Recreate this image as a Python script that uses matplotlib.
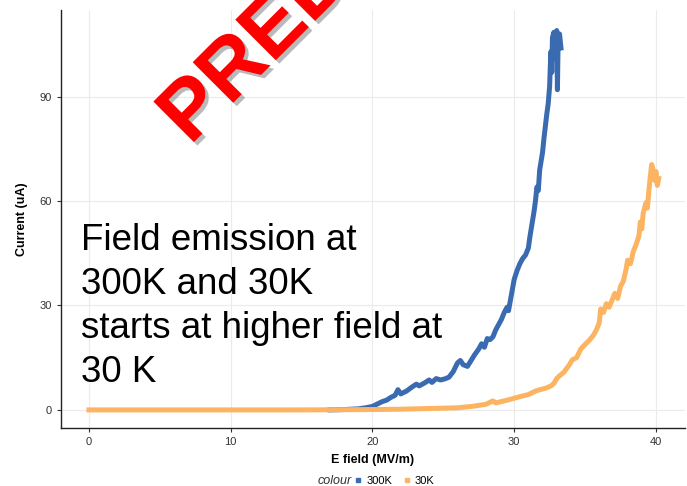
import matplotlib
matplotlib.use('Agg')
import matplotlib.pyplot as plt
import matplotlib.patheffects as pe
from matplotlib.lines import Line2D

plt.rcParams['font.family'] = ['Liberation Sans', 'DejaVu Sans']

# 300K curve (E field MV/m, current uA)
e_300 = [17.0, 18.0, 19.0, 19.5, 20.0, 20.4, 20.7, 21.0, 21.3, 21.6, 21.8, 22.0,
         22.4, 22.8, 23.1, 23.3, 23.7, 24.0, 24.2, 24.5, 24.8, 25.1, 25.4, 25.7,
         26.0, 26.2, 26.4, 26.7, 26.9, 27.2, 27.5, 27.7, 27.9, 28.1, 28.3, 28.5,
         28.7, 28.9, 29.1, 29.3, 29.5, 29.6, 29.8, 30.0, 30.2, 30.4, 30.6, 30.8,
         31.0, 31.1, 31.2, 31.4, 31.5, 31.6, 31.7, 31.8, 32.0, 32.1, 32.2, 32.3,
         32.4, 32.5, 32.55, 32.6, 32.65, 32.7, 32.8, 32.9, 33.0, 33.05, 33.1, 33.2, 33.3]
i_300 = [0.0, 0.1, 0.3, 0.6, 1.0, 1.8, 2.4, 2.8, 3.6, 4.2, 5.8, 4.6,
         5.4, 6.6, 7.4, 6.9, 7.8, 8.6, 7.9, 9.0, 8.6, 8.9, 9.4, 11.0,
         13.5, 14.2, 13.0, 12.5, 13.8, 15.8, 17.5, 19.0, 18.0, 20.5, 20.2, 21.0,
         23.0, 24.5, 26.0, 28.0, 29.5, 28.5, 33.0, 37.5, 40.0, 42.0, 43.5, 44.5,
         46.5, 49.5, 52.0, 57.0, 60.0, 64.0, 63.0, 69.0, 74.0, 78.0, 81.5, 85.0,
         88.0, 93.0, 99.0, 103.0, 97.0, 107.0, 108.5, 101.0, 109.0, 92.0, 106.0, 108.0, 104.0]

# 30K curve
e_30 = [0.0, 5.0, 10.0, 15.0, 20.0, 22.0, 24.0, 25.0, 26.0, 27.0, 28.0, 28.5,
        28.7, 29.5, 30.4, 31.0, 31.5, 31.8, 32.2, 32.6, 32.8, 33.0, 33.2, 33.5,
        33.9, 34.1, 34.4, 34.7, 35.0, 35.3, 35.6, 35.8, 36.0, 36.1, 36.3, 36.5,
        36.7, 36.9, 37.1, 37.3, 37.5, 37.7, 37.9, 38.0, 38.2, 38.4, 38.6, 38.8,
        38.9, 39.0, 39.1, 39.3, 39.4, 39.5, 39.6, 39.7, 39.8, 39.9, 40.0, 40.1, 40.2]
i_30 = [0.0, 0.0, 0.0, 0.0, 0.1, 0.2, 0.4, 0.5, 0.6, 1.0, 1.6, 2.6,
        2.0, 2.8, 3.8, 4.4, 5.4, 5.8, 6.2, 6.9, 7.6, 9.0, 9.8, 10.8,
        13.0, 14.4, 15.0, 17.5, 18.8, 20.0, 21.5, 23.0, 25.0, 29.0, 28.0, 30.5,
        29.5, 31.5, 33.5, 32.0, 35.5, 37.0, 40.5, 43.0, 42.0, 45.5, 47.5, 50.0,
        54.0, 52.0, 56.5, 59.5, 58.0, 63.0, 67.0, 70.5, 69.0, 66.0, 68.5, 64.5, 66.5]

x_ticks = [0, 10, 20, 30, 40]
y_ticks = [0, 30, 60, 90]
labels = ['300K', '30K']
colors = ['#3A6BB1', '#FDB462']

fig = plt.figure(figsize=(6.87, 4.86), dpi=100)
ax = fig.add_axes([61 / 687, 1 - 428 / 486, 624 / 687, 418 / 486])

ax.plot(e_300, i_300, color=colors[0], lw=3.6, solid_joinstyle='round')
ax.plot(e_30, i_30, color=colors[1], lw=3.6, solid_joinstyle='round')

ax.set_xlim(-1.97, 42.05)
ax.set_ylim(-5.2, 114.9)
ax.set_xticks(x_ticks)
ax.set_yticks(y_ticks)
ax.grid(True, color='#EBEBEB', lw=0.8)
ax.set_axisbelow(True)
for s in ['top', 'right']:
    ax.spines[s].set_visible(False)
for s in ['left', 'bottom']:
    ax.spines[s].set_color('#222222')
    ax.spines[s].set_linewidth(1.0)
ax.tick_params(labelsize=8, colors='#333333', length=3, width=0.8)
ax.set_xlabel('E field (MV/m)', fontsize=9, fontweight='bold', labelpad=5)
ax.set_ylabel('Current (uA)', fontsize=9, fontweight='bold', labelpad=8)

# annotation (baseline = last line)
fig.text(81 / 687, 1 - 382 / 486,
         'Field emission at\n300K and 30K\nstarts at higher field at\n30 K',
         fontsize=26.5, va='baseline', ha='left', linespacing=1.33, color='black')

# watermark
fig.text(190 / 687, 1 - 146 / 486, 'PREDICTION', rotation=45, rotation_mode='anchor',
         ha='left', va='baseline', fontsize=60, fontweight='bold', color='#FF0000',
         path_effects=[pe.withSimplePatchShadow(offset=(2.5, -2.5), shadow_rgbFace='#666666', alpha=0.45)])

# legend
fig.text(352 / 687, 1 - 481 / 486, 'colour', style='italic', fontsize=9,
         ha='right', va='center', color='#333333')
handles = [Line2D([], [], marker='s', ls='', color=c, markersize=3.5) for c in colors]
fig.legend(handles, labels, ncol=2, loc='center left', bbox_to_anchor=(354 / 687, 1 - 481 / 486),
           frameon=False, fontsize=8, handlelength=0.8, handletextpad=0.3,
           columnspacing=0.9, borderpad=0, borderaxespad=0)

fig.savefig('out.png', dpi=100)
